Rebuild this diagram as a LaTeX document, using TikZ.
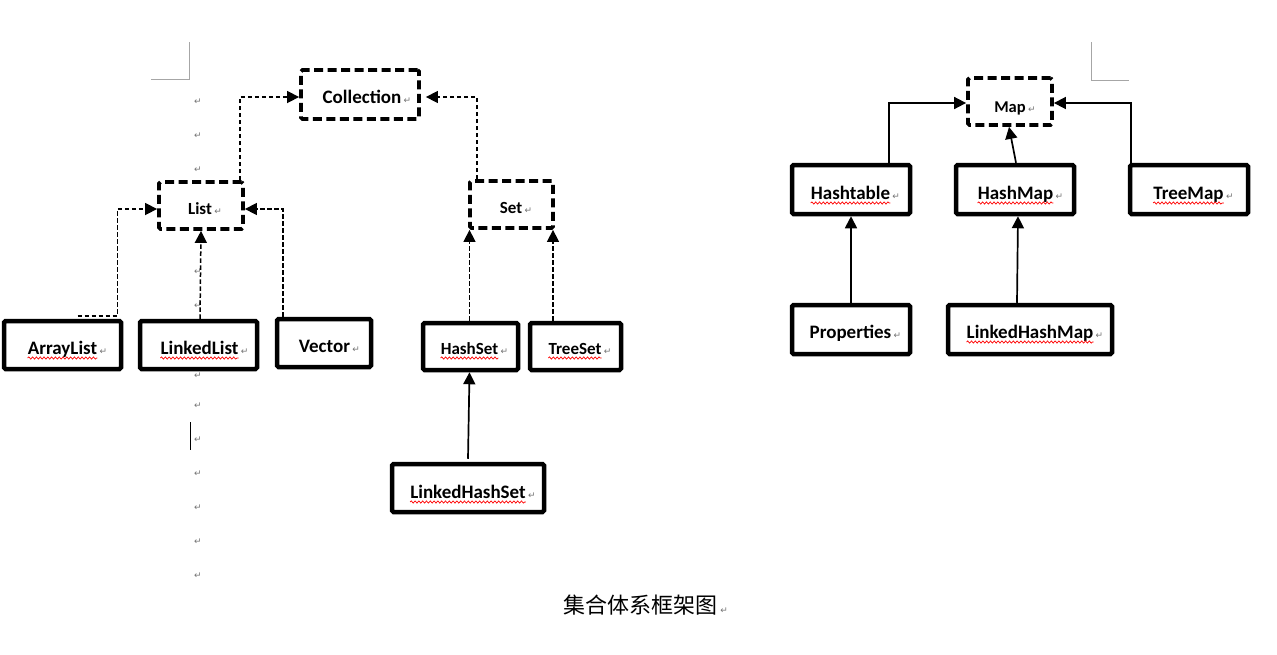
\documentclass[tikz,border=0pt]{standalone}
\usepackage{fontspec}
\setmainfont{Carlito}
\newfontfamily\dvfont{DejaVu Sans}
\newfontfamily\cjkfont{Noto Sans CJK SC}
\usetikzlibrary{arrows.meta,decorations.pathmorphing}
\tikzset{
 sbox/.style={draw, line width=4.5pt, rounded corners=1.5pt, inner sep=0pt},
 dbox/.style={draw, line width=3.8pt, dash pattern=on 9pt off 4.5pt, rounded corners=1.5pt, inner sep=0pt},
 dconn/.style={line width=1.5pt, dash pattern=on 4.5pt off 2.5pt, -{Triangle[length=12pt,width=12pt]}},
 sconn/.style={line width=1.7pt, -{Triangle[length=12pt,width=12pt]}},
 lab/.style={inner sep=0pt, text=black},
 ret/.style={inner sep=0pt, text=black!55, font=\dvfont\fontsize{9}{9}\selectfont},
 squig/.style={draw=red, line width=0.7pt, decorate, decoration={snake, amplitude=1.1pt, segment length=3.8pt}},
 cmark/.style={draw=black!35, line width=1pt}
}
% box: style, name, x1, y1, x2, y2
\newcommand{\mybox}[6]{\node[#1, minimum width={#5-#3-4}, minimum height={#6-#4-4}] (b#2) at ({(#3+#5)/2},{(#4+#6)/2}) {};}
% label: name, cx, baseline, text, size
\newcommand{\mylab}[5]{\node[lab, font=\bfseries\fontsize{#5}{#5}\selectfont, anchor=base] (t#1) at (#2,#3) {#4};
 \node[ret, anchor=base west] (r#1) at ([xshift=2pt]t#1.base east) {↵};}
\newcommand{\squig}[1]{\draw[squig] ([yshift=-4pt]t#1.base west) -- ([yshift=-4pt]t#1.base east);}
\begin{document}
\begin{tikzpicture}[x=1pt,y=-1pt]
\useasboundingbox (0,0) rectangle (1277,654);
% page corner marks
\draw[cmark] (189,42) -- (189,79) -- (151,79);
\draw[cmark] (1091,42) -- (1091,80) -- (1129,80);
% paragraph marks column
\foreach \yy [count=\i] in {102,136,170,272,306,376,406,440,474,508,542,576}
  \node[ret] (m\i) at (198,\yy) {↵};
\draw[line width=1pt] (190,422) -- (190,450);
% boxes
\mybox{dbox}{Collection}{299}{68}{421}{121}
\mybox{dbox}{List}{157}{180}{245}{231}
\mybox{dbox}{Set}{468}{179}{555}{230}
\mybox{dbox}{Map}{966}{76}{1054}{127}
\mybox{sbox}{ArrayList}{2}{319}{123}{371}
\mybox{sbox}{LinkedList}{138}{319}{259}{371}
\mybox{sbox}{Vector}{275}{317}{373}{369}
\mybox{sbox}{HashSet}{421}{321}{520}{372}
\mybox{sbox}{TreeSet}{528}{321}{623}{372}
\mybox{sbox}{LinkedHashSet}{390}{462}{546}{514}
\mybox{sbox}{Hashtable}{790}{163}{912}{216}
\mybox{sbox}{HashMap}{954}{163}{1076}{216}
\mybox{sbox}{TreeMap}{1128}{163}{1250}{216}
\mybox{sbox}{Properties}{790}{303}{912}{356}
\mybox{sbox}{LinkedHashMap}{946}{303}{1114}{356}
% labels
\mylab{Collection}{362}{103}{Collection}{19}
\mylab{List}{200}{214}{List}{17}
\mylab{Set}{511}{213}{Set}{17}
\mylab{Map}{1010}{112}{Map}{16.5}
\mylab{ArrayList}{62.5}{354}{ArrayList}{19}
\mylab{LinkedList}{199.5}{354}{LinkedList}{19}
\mylab{Vector}{324.5}{352}{Vector}{19}
\mylab{HashSet}{469.5}{354}{HashSet}{17}
\mylab{TreeSet}{575}{354}{TreeSet}{17}
\mylab{LinkedHashSet}{468}{498}{LinkedHashSet}{19}
\mylab{Hashtable}{850.5}{199}{Hashtable}{19}
\mylab{HashMap}{1015.5}{199}{HashMap}{19}
\mylab{TreeMap}{1188.5}{199}{TreeMap}{19}
\mylab{Properties}{850.5}{338}{Properties}{19}
\mylab{LinkedHashMap}{1030}{338}{LinkedHashMap}{19}
\foreach \n in {ArrayList,LinkedList,HashSet,TreeSet,LinkedHashSet,Hashtable,HashMap,TreeMap,LinkedHashMap}
  {\squig{\n}}
% connectors: collection hierarchy
\draw[dconn] ([xshift=39pt]bList.north) |- ([yshift=-2.5pt]bCollection.west);
\draw[dconn, shorten >=5pt] ([xshift=-34.5pt]bSet.north) |- ([yshift=-2.5pt]bCollection.east);
\draw[dconn] ([xshift=15pt,yshift=3pt]bArrayList.north) -- ++(40,0) |- ([yshift=-3.5pt]bList.west);
\draw[dconn] ([xshift=1.5pt]bLinkedList.north) -- (bList.south);
\draw[dconn] ([xshift=-41pt]bVector.north) |- ([yshift=-3.5pt]bList.east);
\draw[dconn] ([xshift=-1pt]bHashSet.north) -- ([xshift=-1pt]bHashSet.north |- bSet.south);
\draw[dconn] ([xshift=-22.5pt]bTreeSet.north) -- ([xshift=-22.5pt]bTreeSet.north |- bSet.south);
\draw[sconn] ([yshift=3pt]bLinkedHashSet.north) -- ([xshift=-1pt]bHashSet.south);
% connectors: map hierarchy
\draw[sconn] ([xshift=38pt]bHashtable.north) |- ([yshift=-1.5pt]bMap.west);
\draw[sconn] ([xshift=-58pt]bTreeMap.north) |- ([yshift=-1.5pt]bMap.east);
\draw[sconn] ([xshift=1pt]bHashMap.north) -- ([xshift=-1pt]bMap.south);
\draw[sconn] (bProperties.north) -- (bHashtable.south);
\draw[sconn] ([xshift=-13pt]bLinkedHashMap.north) -- ([xshift=3pt]bHashMap.south);
% caption
\node[inner sep=0pt, font=\cjkfont\fontsize{22}{22}\selectfont] (cap) at (640,605) {集合体系框架图};
\node[ret, anchor=base west] (rcap) at ([xshift=3pt]cap.base east) {↵};
\end{tikzpicture}
\end{document}
